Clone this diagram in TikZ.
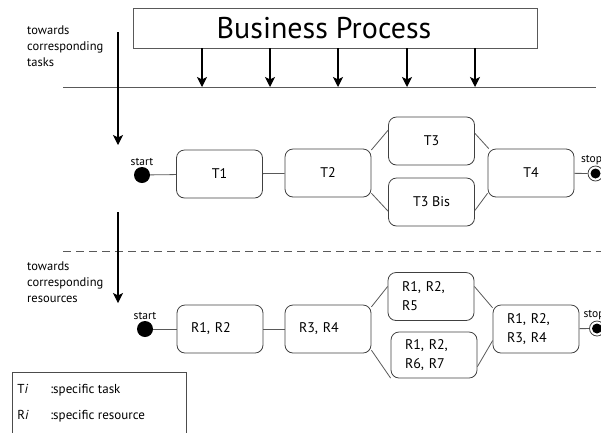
\documentclass[tikz,border=0pt]{standalone}
\usepackage{fontspec}
\setmainfont{PT Sans}
\usetikzlibrary{arrows.meta}
\begin{document}
\begin{tikzpicture}[x=1pt,y=-1pt,
	box/.style={draw=black!75,line width=.8pt,rounded corners=8pt,minimum width=86pt,minimum height=48pt,inner sep=0pt,font=\fontsize{14}{19}\selectfont},
	rbox/.style={box,text width=58pt,inner xsep=14pt,align=left},
	conn/.style={draw=black!65,line width=.8pt},
	arr/.style={line width=1.1pt,-{Stealth[length=10pt,width=10pt,inset=2.5pt]}},
	note/.style={font=\fontsize{12.5}{16}\selectfont,align=left,anchor=north west,inner sep=0pt},
	startdot/.style={circle,fill=black,minimum size=16pt,inner sep=0pt},
	stopdot/.style={circle,draw=black!75,line width=.8pt,fill=white,minimum size=15pt,inner sep=0pt},
	lab/.style={font=\fontsize{11.5}{13}\selectfont,inner sep=1pt}]
	\clip (0,0) rectangle (601,432);
	\useasboundingbox (0,0) rectangle (601,432);

	\node[draw=black!65,line width=.8pt,minimum width=404pt,minimum height=40pt,inner sep=0pt,font=\fontsize{30}{30}\selectfont] (BP) at (335,28) {Business Process\hspace*{22pt}};
	\coordinate (hl) at (63,87);
	\coordinate (hr) at (596,87);
	\draw[conn] (hl) -- (hr);
	\foreach \x [count=\i] in {202,270,338,407,475}{
		\coordinate (in\i) at (\x,87);
		\draw[arr] (BP.south -| in\i) -- (in\i);
	}

	\node[note] (ntasks) at (27,26) {towards\\corresponding\\tasks};
	\coordinate (a1) at (118,32);
	\coordinate (a2) at (118,145);
	\draw[arr] (a1) -- (a2);

	\node[startdot, label={[lab]above:start}] (start1) at (142,175) {};
	\node[box] (T1) at (219.5,174) {T1};
	\node[box] (T2) at (328,173) {T2};
	\node[box] (T3) at (431.5,141) {T3};
	\node[box] (T3b) at (431.5,202) {T3 Bis};
	\node[box] (T4) at (531,173) {T4};
	\node[stopdot, label={[lab,xshift=-4pt]above:stop}] (stop1) at (595.5,173.5) {};
	\fill (stop1.center) circle (5);

	\draw[conn] (start1) -- (T1);
	\draw[conn] (T1) -- (T2);
	\draw[conn] (T2.28) -- (T3.166);
	\draw[conn] (T2.-25) -- (T3b.192);
	\draw[conn] (T3.10) -- (T4.150);
	\draw[conn] (T3b.-11) -- (T4.205);
	\draw[conn] (T4) -- (stop1);

	\coordinate (dl) at (63,251);
	\coordinate (dr) at (601,251);
	\draw[conn,dash pattern=on 8pt off 5pt] (dl) -- (dr);

	\node[note] (nres) at (27,262) {towards\\corresponding\\resources};
	\coordinate (b1) at (118,212);
	\coordinate (b2) at (118,303);
	\draw[arr] (b1) -- (b2);

	\node[startdot, label={[lab]above:start}] (start2) at (145,329) {};
	\node[rbox] (R12) at (220,329) {R1, R2};
	\node[rbox] (R34) at (328,329) {R3, R4};
	\node[rbox] (R125) at (431,296.5) {R1, R2,\\R5};
	\node[rbox,minimum height=46pt] (R1267) at (434,355) {R1, R2,\\R6, R7};
	\node[rbox] (R1234) at (536,329) {R1, R2,\\R3, R4};
	\node[stopdot, label={[lab,xshift=-3pt]above:stop}] (stop2) at (597,328.5) {};
	\fill (stop2.center) circle (5);

	\draw[conn] (start2) -- (R12);
	\draw[conn] (R12) -- (R34);
	\draw[conn] (R34.27) -- (R125.167);
	\draw[conn] (R34.-26) -- (R1267.208);
	\draw[conn] (R125.13) -- (R1234.154);
	\draw[conn] (R1267.-15) -- (R1234.195);
	\draw[conn] (R1234) -- (stop2);

	\node[draw=black!70,line width=.8pt,anchor=north west,inner xsep=5pt,inner ysep=2.5pt,font=\fontsize{13}{26}\selectfont] (legend) at (12,372)
		{\begin{tabular}{@{}p{33pt}@{}p{131pt}@{}}
		T\textit{i} & :specific task\\
		R\textit{i} & :specific resource\\[30pt]
		\end{tabular}};
\end{tikzpicture}
\end{document}
